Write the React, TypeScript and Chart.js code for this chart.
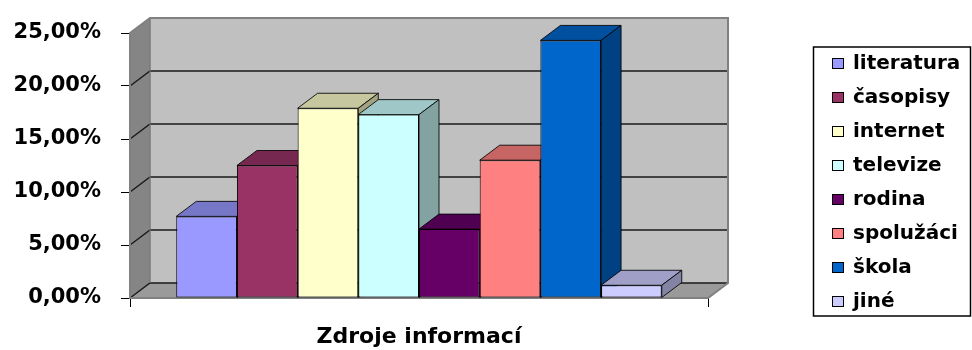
import { useEffect, useRef } from 'react';
import { Chart, registerables } from 'chart.js';

Chart.register(...registerables);

// Survey: where pupils get their information (share of answers, %)
const categories = ['literatura', 'časopisy', 'internet', 'televize', 'rodina', 'spolužáci', 'škola', 'jiné'];
const shares = [7.7, 12.5, 17.9, 17.3, 6.5, 13.0, 24.3, 1.2];
const barColors = ['#9999FF', '#993366', '#FFFFCC', '#CCFFFF', '#660066', '#FF8080', '#0066CC', '#CCCCFF'];
const axisMax = 25;
const axisStep = 5;
const axisTitle = 'Zdroje informací';

const FAMILY = "'DejaVu Sans', sans-serif";

// oblique depth of the pseudo-3D box
const DX = 20;
const DY = -15;

type Pt = [number, number];

function shade(hex: string, k: number): string {
  const n = parseInt(hex.slice(1), 16);
  const r = Math.round(((n >> 16) & 255) * k);
  const g = Math.round(((n >> 8) & 255) * k);
  const b = Math.round((n & 255) * k);
  return `rgb(${r},${g},${b})`;
}

function poly(ctx: CanvasRenderingContext2D, pts: Pt[], fill?: string, stroke?: string, lw = 1) {
  ctx.beginPath();
  ctx.moveTo(pts[0][0], pts[0][1]);
  for (let i = 1; i < pts.length; i++) ctx.lineTo(pts[i][0], pts[i][1]);
  ctx.closePath();
  if (fill) {
    ctx.fillStyle = fill;
    ctx.fill();
  }
  if (stroke) {
    ctx.strokeStyle = stroke;
    ctx.lineWidth = lw;
    ctx.stroke();
  }
}

// Walls, floor and back-wall grid, then bars with top and side faces, painted left to right
const depthPlugin = {
  id: 'depthBox',
  beforeDatasetsDraw(chart: any) {
    const { ctx, chartArea: a } = chart;
    const y = chart.scales.y;
    ctx.save();
    poly(ctx, [[a.left + DX, a.top + DY], [a.right + DX, a.top + DY], [a.right + DX, a.bottom + DY], [a.left + DX, a.bottom + DY]], '#c0c0c0');
    poly(ctx, [[a.left, a.top], [a.left + DX, a.top + DY], [a.left + DX, a.bottom + DY], [a.left, a.bottom]], '#858585', '#6e6e6e', 1);
    poly(ctx, [[a.left, a.bottom], [a.left + DX, a.bottom + DY], [a.right + DX, a.bottom + DY], [a.right, a.bottom]], '#9a9a9a');

    ctx.strokeStyle = '#1a1a1a';
    ctx.lineWidth = 1.4;
    for (const t of y.ticks) {
      if (t.value >= axisMax) continue;
      const py = y.getPixelForValue(t.value);
      ctx.beginPath();
      ctx.moveTo(a.left, py);
      ctx.lineTo(a.left + DX, py + DY);
      ctx.lineTo(a.right + DX, py + DY);
      ctx.stroke();
    }

    ctx.strokeStyle = '#808080';
    ctx.lineWidth = 2;
    ctx.beginPath();
    ctx.moveTo(a.left, a.top);
    ctx.lineTo(a.left + DX, a.top + DY);
    ctx.lineTo(a.right + DX, a.top + DY);
    ctx.lineTo(a.right + DX, a.bottom + DY);
    ctx.lineTo(a.right, a.bottom);
    ctx.lineTo(a.left, a.bottom);
    ctx.closePath();
    ctx.stroke();
    ctx.lineWidth = 1;
    ctx.beginPath();
    ctx.moveTo(a.left + DX, a.top + DY);
    ctx.lineTo(a.left + DX, a.bottom + DY);
    ctx.stroke();
    ctx.restore();
  },
  beforeDatasetDraw() {
    return false;
  },
  afterDatasetsDraw(chart: any) {
    const { ctx, chartArea } = chart;
    ctx.save();
    chart.data.datasets.forEach((ds: any, i: number) => {
      const meta = chart.getDatasetMeta(i);
      meta.data.forEach((el: any) => {
        el.draw(ctx, chartArea);
        const { x, y, base, width } = el.getProps(['x', 'y', 'base', 'width'], true);
        const l = x - width / 2;
        const r = x + width / 2;
        const top = Math.min(y, base);
        const bottom = Math.max(y, base);
        const color = ds.backgroundColor as string;
        poly(ctx, [[l, top], [r, top], [r + DX, top + DY], [l + DX, top + DY]], shade(color, 0.78), 'rgba(0,0,0,0.85)', 1);
        poly(ctx, [[r, top], [r + DX, top + DY], [r + DX, bottom + DY], [r, bottom]], shade(color, 0.64), 'rgba(0,0,0,0.85)', 1);
      });
    });
    ctx.restore();
  },
};

// Framed legend to the right of the plot
const framedLegend = {
  id: 'framedLegend',
  afterDraw(chart: any, _args: any, o: any) {
    const { ctx } = chart;
    ctx.save();
    ctx.strokeStyle = '#000';
    ctx.lineWidth = 1.5;
    ctx.strokeRect(o.left, o.top, o.width, o.height);
    ctx.font = `bold ${o.fontSize}px ${FAMILY}`;
    ctx.textBaseline = 'middle';
    ctx.textAlign = 'left';
    chart.data.datasets.forEach((ds: any, i: number) => {
      const cy = o.firstRow + i * o.rowGap;
      ctx.fillStyle = ds.backgroundColor;
      ctx.fillRect(o.markerX, cy - o.markerH / 2, o.markerW, o.markerH);
      ctx.lineWidth = 1;
      ctx.strokeStyle = '#000';
      ctx.strokeRect(o.markerX + 0.5, cy - o.markerH / 2 + 0.5, o.markerW - 1, o.markerH - 1);
      ctx.fillStyle = '#000';
      ctx.fillText(ds.label, o.textX, cy);
    });
    ctx.restore();
  },
};

function formatPercent(v: number): string {
  return `${Number(v).toFixed(2).replace('.', ',')}%`;
}

export default function App() {
  const canvasRef = useRef<HTMLCanvasElement | null>(null);

  useEffect(() => {
    if (!canvasRef.current) return;
    const chart = new Chart(canvasRef.current, {
      type: 'bar',
      data: {
        labels: [''],
        datasets: categories.map((name, i) => ({
          label: name,
          data: [shares[i]],
          backgroundColor: barColors[i],
          borderColor: '#000',
          borderWidth: 1,
          borderSkipped: false,
          categoryPercentage: 0.84,
          barPercentage: 1,
        })),
      },
      options: {
        responsive: false,
        animation: false,
        layout: { padding: { top: 33, right: 264, bottom: 0, left: 0 } },
        plugins: {
          legend: { display: false },
          tooltip: { enabled: false },
          framedLegend: {
            left: 813.5,
            top: 47,
            width: 157,
            height: 269,
            firstRow: 63.5,
            rowGap: 34,
            markerX: 832,
            markerW: 12,
            markerH: 11,
            textX: 853,
            fontSize: 20,
          },
        } as any,
        scales: {
          x: {
            grid: { drawOnChartArea: false, drawTicks: true, tickLength: 9, color: '#000' },
            border: { display: false },
            ticks: { display: false },
            title: {
              display: true,
              text: axisTitle,
              color: '#000',
              font: { family: FAMILY, size: 22, weight: 'bold' },
              padding: 0,
            },
            afterFit: (s: any) => {
              s.height = 52;
            },
          },
          y: {
            min: 0,
            max: axisMax,
            ticks: {
              stepSize: axisStep,
              color: '#000',
              padding: 20,
              font: { family: FAMILY, size: 21, weight: 'bold' },
              callback: (v: any) => formatPercent(v),
            },
            grid: { drawOnChartArea: false, drawTicks: true, tickLength: 9, color: '#000' },
            border: { display: false },
            afterFit: (s: any) => {
              s.width = 130;
            },
          },
        },
      },
      plugins: [depthPlugin, framedLegend],
    });
    return () => chart.destroy();
  }, []);

  return (
    <div style={{ position: 'absolute', left: 0, top: 0, width: 972, height: 350 }}>
      <canvas ref={canvasRef} width={972} height={350} style={{ display: 'block' }} />
    </div>
  );
}
